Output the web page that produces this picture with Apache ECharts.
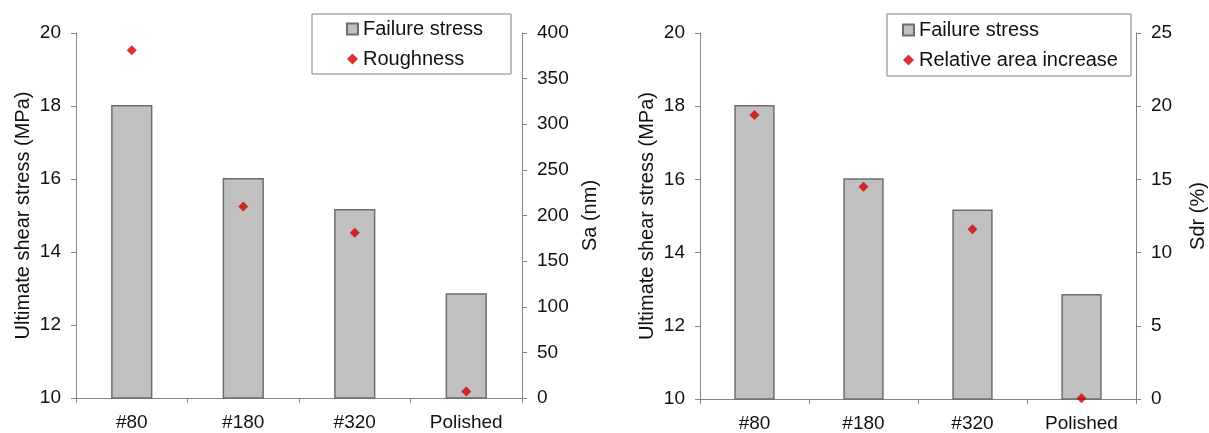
<!DOCTYPE html>
<html>
<head>
<meta charset="utf-8">
<script src="https://cdn.jsdelivr.net/npm/echarts@6/dist/echarts.min.js"></script>
<style>
html,body{margin:0;padding:0;background:#fff;}
#c{width:1209px;height:433px;}
</style>
</head>
<body>
<div id="c"></div>
<script>
var categories = ['#80', '#180', '#320', 'Polished'];
var failureStress = [18.03, 16.03, 15.18, 12.87];
var roughness = [381, 210, 181, 7];
var sdr = [19.4, 14.5, 11.6, 0.05];
var stressTicks = {min: 10, max: 20, interval: 2};
var saTicks = {min: 0, max: 400, interval: 50};
var sdrTicks = {min: 0, max: 25, interval: 5};

var FONT = "'Liberation Sans', Arial, sans-serif";
var AXIS_COLOR = '#858585';
var TEXT_COLOR = '#111';

function xAxisCfg(gi) {
  return {
    type: 'category', gridIndex: gi, data: categories, boundaryGap: true,
    axisLine: {show: true, lineStyle: {color: AXIS_COLOR, width: 1}},
    axisTick: {show: true, interval: 0, length: 5, lineStyle: {color: AXIS_COLOR}},
    axisLabel: {color: TEXT_COLOR, fontFamily: FONT, fontSize: 19, margin: 15, interval: 0},
    splitLine: {show: false}
  };
}
function yAxisCfg(gi, pos, t, name, gap) {
  return {
    type: 'value', gridIndex: gi, position: pos, min: t.min, max: t.max, interval: t.interval,
    name: name, nameLocation: 'middle', nameGap: gap, nameRotate: 90,
    nameTextStyle: {color: TEXT_COLOR, fontFamily: FONT, fontSize: 20},
    axisLine: {show: true, lineStyle: {color: AXIS_COLOR, width: 1}},
    axisTick: {show: true, length: 5, inside: false, lineStyle: {color: AXIS_COLOR}},
    axisLabel: {color: TEXT_COLOR, fontFamily: FONT, fontSize: 19, margin: 15},
    splitLine: {show: false}
  };
}
var barStyle = {color: '#c0c0c0', borderColor: '#6e6e6e', borderWidth: 1.5};
var dotStyle = {color: '#d00000'};

function legendCfg(left, top, names, pad) {
  return {
    orient: 'vertical', left: left, top: top, padding: pad, itemGap: 10,
    itemWidth: 11, itemHeight: 11,
    borderColor: '#808080', borderWidth: 1, backgroundColor: '#fff',
    textStyle: {color: TEXT_COLOR, fontFamily: FONT, fontSize: 20},
    data: names
  };
}

var chart = echarts.init(document.getElementById('c'), null, {renderer: 'canvas'});
chart.setOption({
  animation: false,
  backgroundColor: '#fff',
  grid: [
    {left: 76, right: 687, top: 33, bottom: 35},
    {left: 700, right: 67, top: 33, bottom: 34}
  ],
  xAxis: [xAxisCfg(0), xAxisCfg(1)],
  yAxis: [
    yAxisCfg(0, 'left', stressTicks, 'Ultimate shear stress (MPa)', 43),
    yAxisCfg(0, 'right', saTicks, 'Sa (nm)', 58),
    yAxisCfg(1, 'left', stressTicks, 'Ultimate shear stress (MPa)', 43),
    yAxisCfg(1, 'right', sdrTicks, 'Sdr (%)', 52)
  ],
  legend: [
    legendCfg(312, 14, [{name: 'Failure stress', icon: 'rect'}, {name: 'Roughness', icon: 'diamond'}], [5, 28, 5, 34]),
    legendCfg(887, 14, [{name: 'Failure stress ', icon: 'rect'}, {name: 'Relative area increase', icon: 'diamond'}], [6, 13, 6, 15])
  ],
  series: [
    {name: 'Failure stress', type: 'bar', xAxisIndex: 0, yAxisIndex: 0, data: failureStress,
     barWidth: '37%', itemStyle: barStyle, z: 2},
    {name: 'Roughness', type: 'scatter', xAxisIndex: 0, yAxisIndex: 1, data: roughness,
     symbol: 'diamond', symbolSize: 10, itemStyle: dotStyle, z: 3},
    {name: 'Failure stress ', type: 'bar', xAxisIndex: 1, yAxisIndex: 2, data: failureStress,
     barWidth: '37%', itemStyle: barStyle, z: 2},
    {name: 'Relative area increase', type: 'scatter', xAxisIndex: 1, yAxisIndex: 3, data: sdr,
     symbol: 'diamond', symbolSize: 10, itemStyle: dotStyle, z: 3}
  ]
});
</script>
</body>
</html>
